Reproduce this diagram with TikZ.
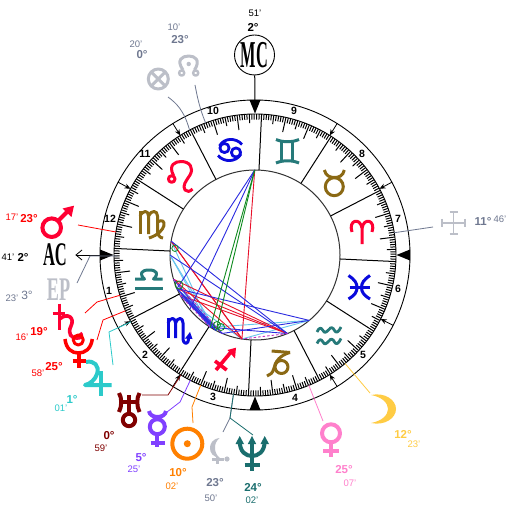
\documentclass[tikz,border=0pt]{standalone}
\usepackage{fontspec}
\usepackage{graphicx}
\setmainfont{Liberation Sans}
\newfontfamily\serf{Liberation Serif}
\usetikzlibrary{arrows.meta}
\definecolor{cred}{HTML}{FF0033}
\definecolor{cbrown}{HTML}{8B6914}
\definecolor{cteal}{HTML}{267A7A}
\definecolor{cblue}{HTML}{0A0ADC}
\definecolor{cgray}{HTML}{BCBFC8}
\definecolor{slate}{HTML}{6F7890}
\definecolor{ccyan}{HTML}{2CCACA}
\definecolor{cmar}{HTML}{800000}
\definecolor{cpur}{HTML}{8040FF}
\definecolor{corg}{HTML}{FF8000}
\definecolor{cgold}{HTML}{FFCC44}
\definecolor{cpink}{HTML}{FF80CC}
\definecolor{cnep}{HTML}{1A6E6E}
\definecolor{asblue}{HTML}{2B2BE0}
\definecolor{aslight}{HTML}{66C4EE}
\definecolor{asred}{HTML}{E8102A}
\definecolor{asgreen}{HTML}{0E8A1E}
\definecolor{asmag}{HTML}{C030C0}
\newcommand{\Fs}[1]{\fontsize{#1}{#1}\selectfont}
\tikzset{
 x=1pt,y=-1pt,
 lab/.style={inner sep=0pt,font=\Fs{11.5}\bfseries},
 mn/.style={inner sep=0pt,font=\Fs{9.5}},
 hn/.style={inner sep=0pt,font=\Fs{10.5}\bfseries},
 lead/.style={line width=0.8pt},
 gl/.style={line width=#1,line cap=butt,line join=round},
 sgn/.style={line width=3pt,line cap=butt,line join=round},
 asb/.style={asblue,line width=0.9pt},
 asl/.style={aslight,line width=0.9pt},
 asr/.style={asred,line width=0.9pt},
 asg/.style={asgreen,line width=0.9pt},
 asm/.style={asmag,line width=0.9pt,dash pattern=on 2.5pt off 2pt},
 conj/.style={asgreen,line width=0.8pt},
 wheel/.style={black,line width=0.9pt},
 tip/.style={-{Stealth[length=6pt,width=5pt]},black,line width=0.8pt}
}
\begin{document}
\begin{tikzpicture}
\useasboundingbox (0,0) rectangle (510,510);
\fill[white] (0,0) rectangle (510,510);
% wheel
\coordinate (C) at (255,255);
\draw[wheel] (C) circle[radius=155];
\draw[wheel] (C) circle[radius=141];
\draw[black!80,line width=1pt] (C) circle[radius=85];
% ticks
\foreach \l in {0,...,359}{
 \pgfmathsetmacro\a{\l-2.68}
 \pgfmathtruncatemacro\mA{mod(\l,30)}
 \pgfmathtruncatemacro\mB{mod(\l,10)}
 \pgfmathtruncatemacro\mC{mod(\l,5)}
 \pgfmathsetmacro\r{\mA==0?85:(\mB==0?126:(\mC==0?132:135.5))}
 \draw[line width=1pt,black] ({255+141*cos(\a)},{255-141*sin(\a)}) -- ({255+\r*cos(\a)},{255-\r*sin(\a)});
}
% house cusps
\foreach \a in {28,58,122,152,208,238,302,333}{
 \draw[tip] ({255+155*cos(\a)},{255-155*sin(\a)}) -- ({255+141*cos(\a)},{255-141*sin(\a)});
}
\foreach \a in {0,90,180,270}{
 \fill[black] ({255+155*cos(\a)-5.5*sin(\a)},{255-155*sin(\a)-5.5*cos(\a)}) -- ({255+155*cos(\a)+5.5*sin(\a)},{255-155*sin(\a)+5.5*cos(\a)}) -- ({255+141.5*cos(\a)},{255-141.5*sin(\a)}) -- cycle;
}
% house numbers
\node[hn] (h9) at (294,111) {9};
\node[hn] (h8) at (362,154) {8};
\node[hn] (h7) at (398,219) {7};
\node[hn] (h6) at (398,289) {6};
\node[hn] (h5) at (363,355) {5};
\node[hn] (h4) at (295,398) {4};
\node[hn] (h3) at (213,397) {3};
\node[hn] (h2) at (145,355) {2};
\node[hn] (h1) at (109,291) {1};
\node[hn] (h12) at (110,219) {12};
\node[hn] (h11) at (145,154) {11};
\node[hn] (h10) at (213,111) {10};
% Aries
\draw[sgn,cred] (352,232) .. controls (348,220) and (360,217) .. (362,228) -- (362,244);
\draw[sgn,cred] (372,232) .. controls (376,220) and (364,217) .. (362,228);
% Taurus
\draw[sgn,cbrown] (334.3,186.7) circle[radius=9];
\draw[sgn,cbrown] (324.3,170) .. controls (326,176) and (330,177.5) .. (334.3,177.5) .. controls (339,177.5) and (343,176) .. (344.3,170);
% Gemini
\draw[gl=3pt,cteal] (276,139.5) .. controls (283,142.5) and (292,142.5) .. (299,139.5);
\draw[gl=3pt,cteal] (276,163) .. controls (283,160) and (292,160) .. (299,163);
\draw[gl=3pt,cteal] (281.5,141) -- (281.5,161.5);
\draw[gl=3pt,cteal] (292.5,141) -- (292.5,161.5);
% Cancer
\draw[gl=2.8pt,cblue] (242,144.5) .. controls (236,137.5) and (224,137.5) .. (219.5,146);
\draw[gl=2.8pt,cblue] (224.5,148) circle[radius=4.6];
\draw[gl=2.8pt,cblue] (218,155.5) .. controls (224,162.5) and (236,162.5) .. (241,154);
\draw[gl=2.8pt,cblue] (236,152.5) circle[radius=4.6];
% Leo
\draw[sgn,cred] (173.5,175.5) .. controls (168,165) and (175,161.5) .. (181,161.5) .. controls (190,161.5) and (194,168) .. (190,175) .. controls (186,181) and (182,186) .. (185,190) .. controls (187,192) and (190,192) .. (192.5,189);
\draw[gl=3pt,cred] (171.7,179) circle[radius=3.3];
% Virgo
\draw[gl=3pt,cbrown] (140,211) -- (140,234);
\draw[gl=3pt,cbrown] (140,216) .. controls (143,210) and (148.5,210) .. (148.5,216) -- (148.5,234);
\draw[gl=3pt,cbrown] (148.5,216) .. controls (151,210) and (157.5,210) .. (157.5,216) -- (157.5,231) .. controls (157.5,235) and (160,238) .. (163,238);
\draw[gl=3pt,cbrown] (157.5,222) .. controls (167,216) and (168,232) .. (149,238);
% Libra
\draw[sgn,cteal] (135,288) -- (162.7,288);
\draw[sgn,cteal] (135,279) -- (144.5,279) .. controls (139,274) and (141,270) .. (149,270) .. controls (157,270) and (159,274) .. (153.5,279) -- (162.7,279);
% Scorpio
\draw[gl=3pt,cblue] (168,318) -- (168,338);
\draw[gl=3pt,cblue] (168,323) .. controls (170,317) and (175.5,317) .. (175.5,323) -- (175.5,338);
\draw[gl=3pt,cblue] (175.5,323) .. controls (177.5,317) and (183,317) .. (183,323) -- (183,338) .. controls (183,345) and (189,346) .. (188.5,337);
\fill[cblue] (190,332) -- (185,338.5) -- (192.5,339) -- cycle;
% Sagittarius
\draw[gl=3.6pt,cred] (216,370) -- (231,352);
\draw[gl=3.6pt,cred] (215,361) -- (226.7,370);
\fill[cred] (236,347.7) -- (227.5,350) -- (235,358.5) -- cycle;
% Capricorn
\draw[sgn,cbrown] (271.7,351) -- (290,352.5);
\draw[sgn,cbrown] (290,352.5) .. controls (280,355) and (275,362) .. (274,368) .. controls (273,373) and (270,375) .. (267,376);
\draw[gl=3pt,cbrown] (281.5,367) circle[radius=6.5];
% Aquarius
\foreach \yy in {329.5,341}{
 \draw[sgn,cteal,line width=2.8pt] (317,{\yy+2.5}) .. controls (319,{\yy-2}) and (321,{\yy-2.5}) .. (323,{\yy+1}) .. controls (324.5,{\yy+4}) and (326,{\yy+3}) .. (329,\yy) .. controls (331,{\yy-3}) and (333,{\yy-2}) .. (334.5,{\yy+1}) .. controls (336,{\yy+4}) and (338.5,{\yy+3}) .. (341,{\yy-2.5});
}
% Pisces
\draw[sgn,cblue] (348.5,275.5) .. controls (355,280) and (357,283) .. (357,287.5) .. controls (357,292) and (355,295) .. (348.5,299);
\draw[sgn,cblue] (370,275.5) .. controls (363.5,280) and (361.5,283) .. (361.5,287.5) .. controls (361.5,292) and (363.5,295) .. (370,299);
\draw[gl=3pt,cblue] (349.5,287.5) -- (370,287.5);
% body points on the inner circle
\foreach \n/\a in {Mars/170.6,AC/180,Sat/196.6,Plu/203.3,Jup/208.3,Ura/238.3,Mer/242.7,Sun/247.35,Lil/261.15,Nep/261.35,Ven/292.44,Moo/309.7,MC/90.17}{
 \coordinate (\n) at ({255+85*cos(\a)},{255-85*sin(\a)});
}
\coordinate (MCx) at (190,309);
% aspects
\foreach \p/\q in {Mars/Ura,AC/Ura,AC/Mer,Moo/Ura,Moo/Lil,Sat/Sun,Jup/Lil,Sat/Ura}{\draw[asl] (\p) -- (\q);}
\foreach \p/\q in {Mars/Lil,Mars/Nep,Ven/Sat,Ven/Plu,Ven/Jup,MC/Lil,Sat/Lil}{\draw[asr] (\p) -- (\q);}
\foreach \p/\q in {MC/Plu,MC/MCx,Mars/Ven,AC/Ven,Moo/Plu,Moo/Sun,Ven/Ura,Plu/Ura,Plu/Mer,Jup/Mer,Jup/Sun,Sat/Mer,Plu/Sun}{\draw[asb] (\p) -- (\q);}
\foreach \p/\q in {MC/Ura,MC/Mer}{\draw[asg] (\p) -- (\q);}
\foreach \p/\q in {Ven/Lil,Jup/Ura,Sat/Sun}{\draw[asm] (\p) -- (\q);}
\draw[conj] (175,248.3) circle[radius=3.2];
\draw[conj] (179,285) circle[radius=4];
\draw[conj] (217,325) circle[radius=3.5];
\draw[conj] (221,327) circle[radius=3.5];
% leads
\coordinate (tMars) at ({255+141*cos(170.6)},{255-141*sin(170.6)});
\draw[lead,red] (78,225) -- (tMars);
\coordinate (tSat) at ({255+141*cos(196.6)},{255-141*sin(196.6)});
\draw[lead,red] (85,313) -- (97,302) -- (tSat);
\coordinate (tPlu) at ({255+141*cos(203.3)},{255-141*sin(203.3)});
\draw[lead,red] (97,340) -- (103,320) -- (tPlu);
\coordinate (tJup) at ({255+141*cos(208.3)},{255-141*sin(208.3)});
\draw[lead,ccyan] (113,365) -- (109,332) -- (tJup);
\coordinate (tUra) at ({255+141*cos(238.3)},{255-141*sin(238.3)});
\draw[lead,cmar] (142,395) -- (168,395) -- (tUra);
\coordinate (tMer) at ({255+141*cos(242.7)},{255-141*sin(242.7)});
\draw[lead,cpur] (167,412) -- (180,402) -- (tMer);
\coordinate (tSun) at ({255+141*cos(247.35)},{255-141*sin(247.35)});
\draw[lead,corg] (193,423) -- (192,407) -- (tSun);
\coordinate (tLil) at ({255+141*cos(261.2)},{255-141*sin(261.2)});
\draw[lead,slate] (223,432) -- (230,418) -- (tLil);
\draw[lead,cnep] (253,435) -- (230,418) -- (tLil);
\coordinate (tVen) at ({255+141*cos(292.44)},{255-141*sin(292.44)});
\draw[lead,cpink] (323,421) -- (tVen);
\coordinate (tMoo) at ({255+141*cos(309.7)},{255-141*sin(309.7)});
\draw[lead,cgold] (370,393) -- (tMoo);
\coordinate (tCro) at ({255+141*cos(9.09)},{255-141*sin(9.09)});
\draw[lead,slate] (433,227) -- (tCro);
\coordinate (tFor) at ({255+141*cos(117.65)},{255-141*sin(117.65)});
\draw[lead,slate] (168,97) .. controls (176,103) and (184,110) .. (tFor);
\coordinate (tNod) at ({255+141*cos(110.49)},{255-141*sin(110.49)});
\draw[lead,slate] (195,85) .. controls (197,95) and (199,107) .. (tNod);
\draw[lead,black] (100,255) -- (76,255);
\draw[lead,black] (82,250) -- (76,255) -- (82,260);
\draw[lead,slate] (77,283) -- (90,256) -- (117,256);
% MC AC EP
\node[draw=black,circle,minimum size=40pt,inner sep=0pt,line width=0.9pt,fill=white] (mcn) at (254.5,55) {};
\node[inner sep=0pt] (mct) at (254.5,55) {\serf\bfseries\Fs{38}\scalebox{0.43}[1]{MC}};
\draw[black,line width=1pt] (mcn) -- (255,101);
\node[inner sep=0pt] (act) at (55,255) {\serf\bfseries\Fs{33}\scalebox{0.5}[1]{AC}};
\node[inner sep=0pt,text=cgray] (ept) at (58.5,290) {\serf\bfseries\Fs{33}\scalebox{0.55}[1]{EP}};
% Mars
\draw[gl=4pt,cred] (51.7,227.7) circle[radius=9.3];
\draw[gl=4pt,cred] (58.5,220.5) -- (69,210);
\fill[cred] (74,205.7) -- (62.5,208.5) -- (71.5,217) -- cycle;
% Venus
\draw[gl=4pt,cpink] (331,433.3) circle[radius=9];
\draw[gl=4pt,cpink] (331,443) -- (331,457);
\draw[gl=4pt,cpink] (323.3,451) -- (338.7,451);
% Moon
\fill[cgold] (371,395) .. controls (385,392) and (396,400) .. (396,409) .. controls (396,418) and (385,426) .. (371,423) .. controls (382,421) and (388,415) .. (388,409) .. controls (388,403) and (382,397) .. (371,395) -- cycle;
% Sun
\draw[gl=4pt,corg] (187.3,443.7) circle[radius=15];
\fill[corg] (187.3,443.7) circle[radius=3.5];
% Mercury
\draw[gl=4pt,cpur] (157.3,426.7) circle[radius=7.5];
\draw[gl=4pt,cpur] (149,411) .. controls (150,419) and (165,419) .. (166,411);
\draw[gl=4pt,cpur] (157.3,434) -- (157.3,447);
\draw[gl=4pt,cpur] (150.5,443) -- (165,443);
% Uranus
\draw[gl=4pt,cmar] (129,395) -- (129,414);
\draw[gl=4pt,cmar] (119,393) .. controls (122,398) and (122,406) .. (119,412);
\draw[gl=4pt,cmar] (139.5,393) .. controls (136.5,398) and (136.5,406) .. (139.5,412);
\draw[gl=4pt,cmar] (121,402) -- (137.5,402);
\draw[gl=4pt,cmar] (129,420) circle[radius=6.2];
% Jupiter
\draw[gl=4pt,ccyan] (86,362) .. controls (94,360) and (100,366) .. (97,374) .. controls (95,380) and (90,384) .. (85,385) -- (111.5,385);
\draw[gl=4pt,ccyan] (100.7,371) -- (100.7,396);
% Saturn
\draw[gl=3.6pt,cred] (59.3,303.5) -- (59.3,330);
\draw[gl=3.6pt,cred] (52.7,313.3) -- (65,313.3);
\draw[gl=3.6pt,cred] (59.5,319) .. controls (68,312) and (75,318) .. (71,326) .. controls (67,334) and (72,338) .. (76,338) .. controls (81,339) and (83,335) .. (80,333);
% Pluto
\draw[gl=3pt,red] (78.3,340) circle[radius=5];
\draw[gl=3.5pt,red] (65,339) .. controls (66,349) and (72,353) .. (78.3,353) .. controls (85,353) and (91,349) .. (92.3,339);
\draw[gl=3.5pt,red] (78.8,353) -- (78.8,368);
\draw[gl=3.5pt,red] (72.7,361) -- (86,361);
% Neptune
\draw[gl=4pt,cnep] (239.7,441) .. controls (239.7,452) and (246,456) .. (252,456) .. controls (258,456) and (264.7,452) .. (264.7,441);
\draw[gl=4pt,cnep] (252,441) -- (252,471);
\draw[gl=4pt,cnep] (244.7,465) -- (259.7,465);
\fill[cnep] (239.7,436) -- (235.5,444) -- (244,444) -- cycle;
\fill[cnep] (252,436) -- (247.8,444) -- (256.2,444) -- cycle;
\fill[cnep] (264.7,436) -- (260.5,444) -- (269,444) -- cycle;
% Lilith
\fill[cgray] (219.7,438) .. controls (212,439) and (210,444) .. (210,448) .. controls (210,453) and (213,457) .. (220,458) .. controls (216,455) and (215,451) .. (215,448) .. controls (215,444) and (216,441) .. (219.7,438) -- cycle;
\draw[gl=3pt,cgray] (217.3,457) -- (217.3,463.5);
\draw[gl=3pt,cgray] (212,459.5) -- (224,459.5);
\fill[cgray] (227,459) circle[radius=2.6];
% Part of fortune
\draw[gl=3pt,cgray] (158.3,79) circle[radius=10];
\draw[gl=3pt,cgray] (151.3,72) -- (165.3,86);
\draw[gl=3pt,cgray] (151.3,86) -- (165.3,72);
% Node
\draw[gl=3pt,cgray] (183,70) .. controls (176,60) and (182,56) .. (188.7,56) .. controls (195,56) and (201,60) .. (194.5,70);
\draw[gl=2.4pt,cgray] (181.7,73) circle[radius=2.6];
\draw[gl=2.4pt,cgray] (195.7,73) circle[radius=2.6];
\fill[cgray] (188.7,64) circle[radius=2.2];
% Cross
\draw[gl=1.8pt,cgray] (453.5,212) -- (453.5,234);
\draw[gl=1.8pt,cgray] (442,223) -- (465,223);
\draw[gl=1.6pt,cgray] (449.5,212) -- (457.5,212);
\draw[gl=1.6pt,cgray] (449.5,234) -- (457.5,234);
\draw[gl=1.6pt,cgray] (442,219) -- (442,227);
\draw[gl=1.6pt,cgray] (465,219) -- (465,227);
% labels
\node[mn] (a1) at (255,13) {51'};
\node[lab] (a2) at (253,27) {2°};
\node[mn,text=slate] (a3) at (136,44) {20'};
\node[lab,text=slate] (a4) at (142,55) {0°};
\node[mn,text=slate] (a5) at (174,27) {10'};
\node[lab,text=slate] (a6) at (180,40) {23°};
\node[lab,text=slate] (a7) at (483,221) {11°};
\node[mn,text=slate] (a8) at (500,219) {46'};
\node[mn,text=red] (a9) at (12,217) {17'};
\node[lab,text=red] (a10) at (29,219) {23°};
\node[mn] (a11) at (8,257) {41'};
\node[lab] (a12) at (23,257) {2°};
\node[mn,text=slate] (a13) at (12,298) {23'};
\node[lab,font=\Fs{12},text=slate] (a14) at (27,295) {3°};
\node[mn,text=red] (a15) at (22,337) {16'};
\node[lab,text=red] (a16) at (39,332) {19°};
\node[mn,text=red] (a17) at (38,373) {58'};
\node[lab,text=red] (a18) at (54,367) {25°};
\node[lab,text=ccyan] (a19) at (72,399) {1°};
\node[mn,text=ccyan] (a20) at (61,408) {01'};
\node[lab,text=cmar] (a21) at (109,436) {0°};
\node[mn,text=cmar] (a22) at (101,448) {59'};
\node[lab,text=cpur] (a23) at (141,458) {5°};
\node[mn,text=cpur] (a24) at (134,469) {25'};
\node[lab,text=corg] (a25) at (178,473) {10°};
\node[mn,text=corg] (a26) at (172,486) {02'};
\node[lab,text=slate] (a27) at (215,483) {23°};
\node[mn,text=slate] (a28) at (211,498) {50'};
\node[lab,text=cnep] (a29) at (253,487) {24°};
\node[mn,text=cnep] (a30) at (252,500) {02'};
\node[lab,text=cpink] (a31) at (344,470) {25°};
\node[mn,text=cpink] (a32) at (350,483) {07'};
\node[lab,text=cgold] (a33) at (403,434) {12°};
\node[mn,text=cgold] (a34) at (414,444) {23'};
\end{tikzpicture}
\end{document}
